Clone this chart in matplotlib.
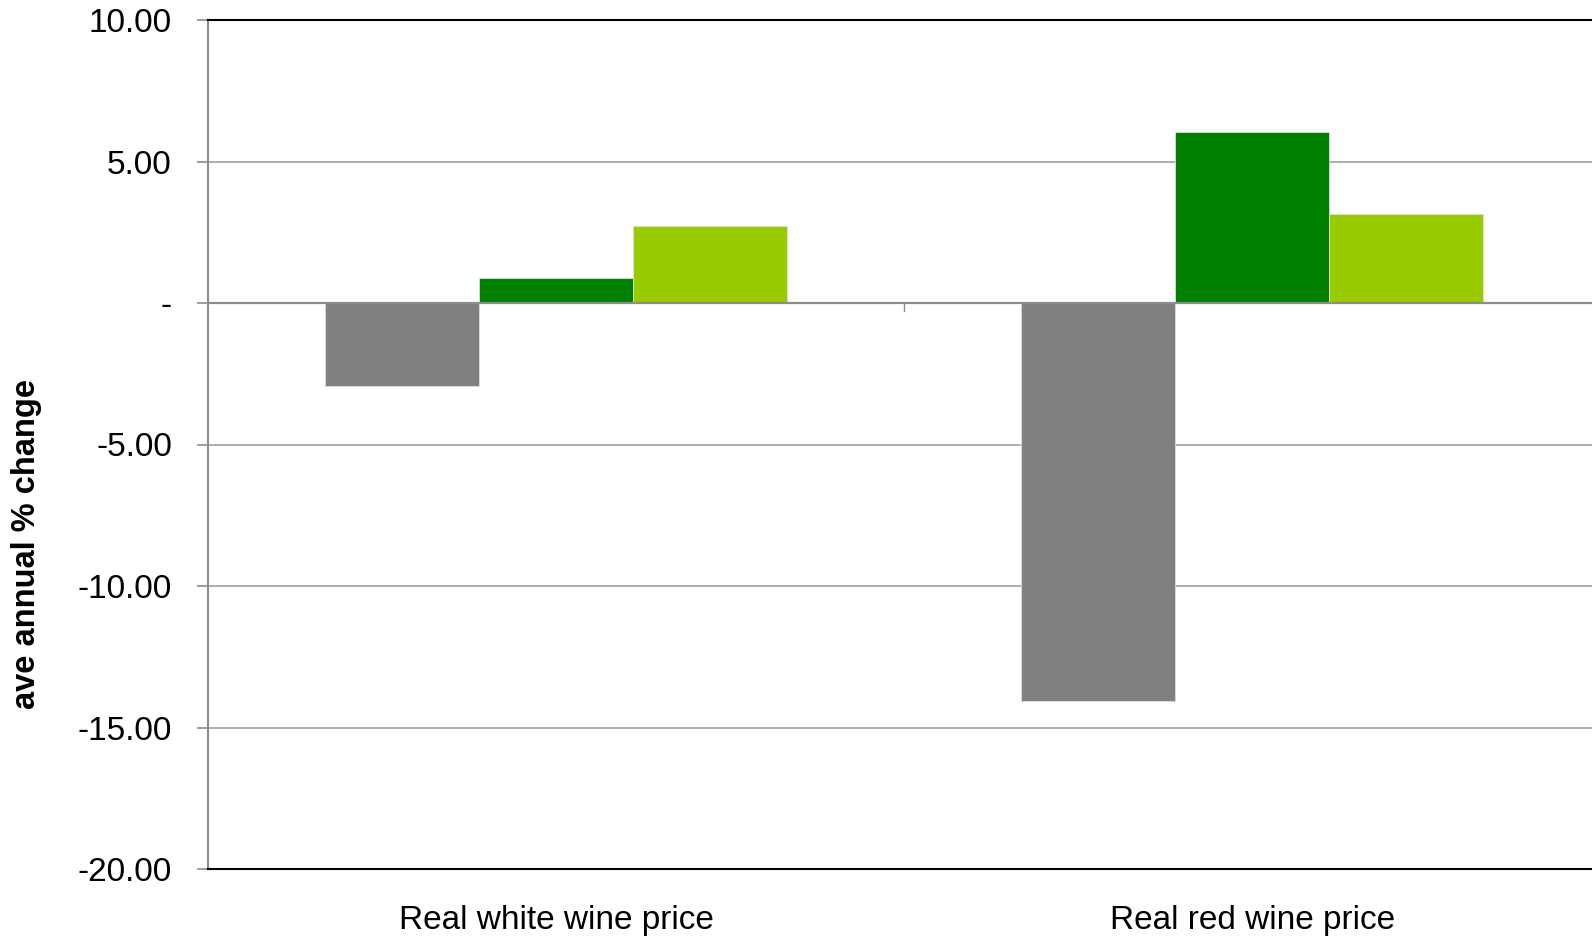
import matplotlib.pyplot as plt
import numpy as np

plt.rcParams['font.family'] = ['Liberation Sans', 'DejaVu Sans']

categories = ['Real white wine price', 'Real red wine price']
series_a = [-2.95, -14.05]   # grey
series_b = [0.88, 6.05]      # dark green
series_c = [2.72, 3.14]      # light green
colors = ['#808080', '#008000', '#99CC00']
yticks = [-20, -15, -10, -5, 0, 5, 10]

fig = plt.figure(figsize=(15.92, 9.40), dpi=100)
ax = fig.add_axes([208 / 1592, 1 - 869 / 940, (1592 - 208) / 1592, (869 - 20) / 940])

x = np.arange(len(categories))
w = 0.221
for i, (vals, c) in enumerate(zip([series_a, series_b, series_c], colors)):
    ax.bar(x + (i - 1) * w, vals, width=w, color=c, edgecolor='#dddddd', linewidth=0.6, zorder=3)

ax.set_xlim(-0.5, 1.488)
ax.set_ylim(-20, 10)

# grid lines
for t in yticks[1:-1]:
    ax.axhline(t, color='#8c8c8c' if t == 0 else '#a0a0a0', linewidth=1.6 if t == 0 else 1.2, zorder=2 if t != 0 else 4)
# category divider tick on the zero line
ax.plot([0.5, 0.5], [0, -0.3], color='#8c8c8c', linewidth=1, zorder=4)

ax.set_yticks(yticks)
ax.set_yticklabels(['-' if t == 0 else f'{t:.2f}' for t in yticks], fontsize=24)
ax.tick_params(axis='y', length=8, width=1.2, color='#8c8c8c', pad=18)
ax.set_xticks(x)
ax.set_xticklabels(categories, fontsize=24)
ax.tick_params(axis='x', length=0, pad=26)

ax.spines['left'].set_color('#8c8c8c')
ax.spines['left'].set_linewidth(1.5)
ax.spines['right'].set_visible(False)
ax.spines['top'].set_color('black')
ax.spines['top'].set_linewidth(1.5)
ax.spines['bottom'].set_color('black')
ax.spines['bottom'].set_linewidth(1.5)

ax.set_ylabel('ave annual % change', fontsize=23.5, fontweight='bold')
ax.yaxis.set_label_coords(-0.12, 0.383)

fig.savefig('out.png', dpi=100)
